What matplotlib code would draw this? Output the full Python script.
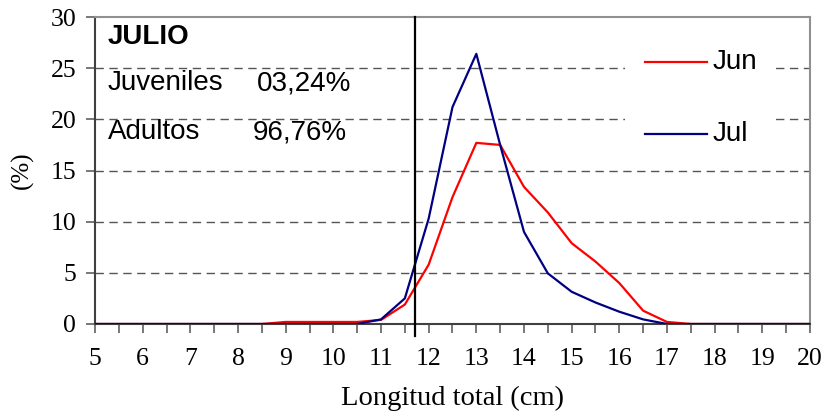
import numpy as np
import matplotlib
matplotlib.use("Agg")
import matplotlib.pyplot as plt
from matplotlib.lines import Line2D
from matplotlib.patches import Rectangle

# talla (cm) cada 0.5
tallas = np.arange(5, 20.5, 0.5)

jun = [0, 0, 0, 0, 0, 0, 0, 0, 0.2, 0.2, 0.2, 0.2, 0.4, 1.9, 5.8, 12.4,
       17.7, 17.5, 13.4, 10.9, 7.9, 6.1, 4.0, 1.3, 0.2, 0, 0, 0, 0, 0, 0]
jul = [0, 0, 0, 0, 0, 0, 0, 0, 0, 0, 0, 0, 0.45, 2.5, 10.3, 21.2,
       26.4, 17.5, 9.0, 4.95, 3.15, 2.1, 1.2, 0.45, 0, 0, 0, 0, 0, 0, 0]

talla_corte = 11.72

serif = "Liberation Serif"
sans = "Liberation Sans"

fig = plt.figure(figsize=(8.27, 4.18), dpi=100)
ax = fig.add_axes([0.1149, 0.2249, 0.8645, 0.7344])

ax.plot(tallas, jun, color="#FF0000", lw=1.6, zorder=3)
ax.plot(tallas, jul, color="#000080", lw=1.6, zorder=4)
ax.axvline(talla_corte, ymin=-0.04, ymax=1, color="black", lw=1.6, zorder=5,
           clip_on=False)

ax.set_xlim(5, 20)
ax.set_ylim(0, 30)
ax.set_yticks(np.arange(0, 31, 5))
ax.set_xticks(tallas)
ax.set_xticklabels([str(int(t)) if t == int(t) else "" for t in tallas])

for y in range(5, 30, 5):
    ax.axhline(y, color="#555555", lw=1.0, dashes=(6, 4), zorder=1)

for s in ["top", "right"]:
    ax.spines[s].set_color("#909090")
    ax.spines[s].set_linewidth(1.5)
ax.spines["left"].set_color("#404040")
ax.spines["left"].set_linewidth(1.5)
ax.spines["bottom"].set_color("#404040")
ax.spines["bottom"].set_linewidth(1.5)

ax.tick_params(axis="both", direction="out", length=6.5, width=1.2, color="#606060",
               labelsize=18.5)
ax.tick_params(axis="x", pad=11)
ax.tick_params(axis="y", pad=7)
for lab in ax.get_xticklabels() + ax.get_yticklabels():
    lab.set_fontfamily(serif)

ax.set_xlabel("Longitud total (cm)", fontsize=20.5, fontfamily=serif, labelpad=11)
ax.set_ylabel("(%)", fontsize=18, fontfamily=serif, labelpad=12)

ax.text(0.018, 0.935, "JULIO", transform=ax.transAxes, fontsize=20,
        fontweight="bold", fontfamily=sans, va="center")
ax.text(0.018, 0.785, "Juveniles", transform=ax.transAxes, fontsize=20,
        fontfamily=sans, va="center")
ax.text(0.2266, 0.785, "03,24%", transform=ax.transAxes, fontsize=20,
        fontfamily=sans, va="center")
ax.text(0.018, 0.625, "Adultos", transform=ax.transAxes, fontsize=20,
        fontfamily=sans, va="center")
ax.text(0.221, 0.625, "96,76%", transform=ax.transAxes, fontsize=20,
        fontfamily=sans, va="center")

# leyenda
ax.add_patch(Rectangle((0.741, 0.58), 0.206, 0.40, transform=ax.transAxes,
                       facecolor="white", edgecolor="none", zorder=2))
for nombre, color, yy in [("Jun", "#FF0000", 0.852), ("Jul", "#000080", 0.618)]:
    ax.add_line(Line2D([0.769, 0.856], [yy, yy], transform=ax.transAxes,
                       color=color, lw=1.6, zorder=6))
    ax.text(0.864, yy, nombre, transform=ax.transAxes, fontsize=20,
            fontfamily=sans, va="center", zorder=6)

fig.savefig("out.png", dpi=100)
